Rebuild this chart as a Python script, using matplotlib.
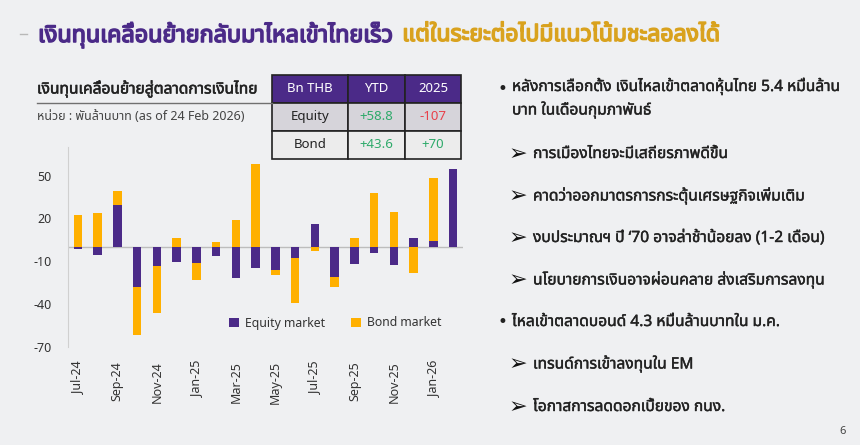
import numpy as np
import matplotlib
matplotlib.use("Agg")
import matplotlib.pyplot as plt
from matplotlib import font_manager, ft2font
from matplotlib import patheffects as pe
from matplotlib.patches import Rectangle
from matplotlib.lines import Line2D

# monthly flows, bn THB
months = ["Jul-24", "Aug-24", "Sep-24", "Oct-24", "Nov-24", "Dec-24",
          "Jan-25", "Feb-25", "Mar-25", "Apr-25", "May-25", "Jun-25",
          "Jul-25", "Aug-25", "Sep-25", "Oct-25", "Nov-25", "Dec-25",
          "Jan-26", "Feb-26"]
equity = [-1.5, -5.8, 29.3, -27.9, -13.5, -10.5, -11.2, -6.5, -21.6, -14.7,
          -15.8, -7.7, 16.3, -21.2, -11.6, -4.2, -12.3, 6.3, 4.4, 54.4]
bond = [22.5, 23.5, 10.2, -34.0, -33.0, 6.0, -12.0, 3.3, 19.0, 57.9,
        -4.0, -31.4, -2.6, -7.0, 6.0, 37.7, 24.2, -17.9, 43.7, 0.0]
yticks = [-70, -40, -10, 20, 50]

tbl_header = ["Bn THB", "YTD", "2025"]
tbl_rows = [["Equity", "+58.8", "-107"], ["Bond", "+43.6", "+70"]]

title_a = "เงินทุนเคลื่อนย้ายกลับมาไหลเข้าไทยเร็ว"
title_b = "แต่ในระยะต่อไปมีแนวโน้มชะลอลงได้"
subtitle = "เงินทุนเคลื่อนย้ายสู่ตลาดการเงินไทย"
unit = "หน่วย : พันล้านบาท (as of 24 Feb 2026)"
bullets = [
    (0, "หลังการเลือกตั้ง เงินไหลเข้าตลาดหุ้นไทย 5.4 หมื่นล้าน\nบาท ในเดือนกุมภาพันธ์"),
    (1, "การเมืองไทยจะมีเสถียรภาพดีขึ้น"),
    (1, "คาดว่าออกมาตรการกระตุ้นเศรษฐกิจเพิ่มเติม"),
    (1, "งบประมาณฯ ปี ‘70 อาจล่าช้าน้อยลง (1-2 เดือน)"),
    (1, "นโยบายการเงินอาจผ่อนคลาย ส่งเสริมการลงทุน"),
    (0, "ไหลเข้าตลาดบอนด์ 4.3 หมื่นล้านบาทใน ม.ค."),
    (1, "เทรนด์การเข้าลงทุนใน EM"),
    (1, "โอกาสการลดดอกเบี้ยของ กนง."),
]

# find a font with Thai glyphs
thai = None
names = []
for f in font_manager.fontManager.ttflist:
    try:
        if 0x0E01 in ft2font.FT2Font(f.fname).get_charmap():
            names.append(f.name)
    except Exception:
        pass
for pref in ["Tahoma", "Leelawadee UI", "Noto Sans Thai", "Noto Sans Thai UI",
             "Sarabun", "Garuda", "Loma", "Norasi"]:
    if pref in names:
        thai = pref
        break
if thai is None and names:
    thai = names[0]
fams = ([thai] if thai else []) + ["DejaVu Sans"]
plt.rcParams["font.family"] = fams

PURPLE = "#4b2a88"
ORANGE = "#ffb000"
BG = "#eff0f2"
W, H = 860, 445


def fx(x):
    return x / W


def fy(y):
    return 1 - y / H


fig = plt.figure(figsize=(8.6, 4.45), dpi=100)
fig.patch.set_facecolor(BG)

# title (stroke to thicken, the Thai face may have no bold)
fig.add_artist(Line2D([fx(20), fx(27)], [fy(34), fy(34)], color="#b8b8b8", lw=1))
t1 = fig.text(fx(38), fy(35), title_a, fontsize=16.8, fontweight="bold",
              color=PURPLE, va="center",
              path_effects=[pe.withStroke(linewidth=1.1, foreground=PURPLE)])
fig.canvas.draw()
bb = t1.get_window_extent()
fig.text(bb.x1 / W + fx(9), fy(35), title_b, fontsize=16.5, fontweight="bold",
         color="#d9a21e", va="center",
         path_effects=[pe.withStroke(linewidth=1.1, foreground="#d9a21e")])

# chart header
fig.text(fx(37), fy(89), subtitle, fontsize=11.2, color="#222222", va="center",
         path_effects=[pe.withStroke(linewidth=0.4, foreground="#222222")])
fig.add_artist(Line2D([fx(37), fx(272)], [fy(103), fy(103)], color="#707070", lw=1))
fig.text(fx(37), fy(116), unit, fontsize=9, color="#444444", va="center")

# table
col_x = [272, 348, 405, 461]
row_y = [75, 103, 131, 159]
fills = [PURPLE, "#d6d4da", "#ececec"]
cells = [tbl_header] + tbl_rows
for r in range(3):
    for c in range(3):
        x0, x1 = col_x[c], col_x[c + 1]
        y0, y1 = row_y[r], row_y[r + 1]
        fig.add_artist(Rectangle((fx(x0), fy(y1)), fx(x1 - x0), (y1 - y0) / H,
                                 facecolor=fills[r], edgecolor="#222222", lw=1.2,
                                 transform=fig.transFigure))
        txt = cells[r][c]
        if r == 0:
            col = "white"
        elif c == 0:
            col = "#222222"
        else:
            col = "#e8404a" if txt.startswith("-") else "#2eaa6a"
        fig.text(fx((x0 + x1) / 2), fy((y0 + y1) / 2), txt, fontsize=9.5,
                 color=col, ha="center", va="center")

# bars
ax = fig.add_axes([fx(68), fy(347), fx(463 - 68), (347 - 147) / H])
ax.set_facecolor("none")
x = np.arange(len(months))
eq = np.array(equity)
bd = np.array(bond)
base = np.where(np.sign(eq) == np.sign(bd), eq, 0)
ax.bar(x, eq, width=0.42, color=PURPLE, label="Equity market", zorder=2)
ax.bar(x, bd, bottom=base, width=0.42, color=ORANGE, label="Bond market", zorder=2)
ax.axhline(0, color="#bdbdbd", lw=1, zorder=1)
ax.set_xlim(-0.5, 19.5)
ax.set_ylim(-70, 70)
ax.set_yticks(yticks)
ax.set_xticks(x[::2])
ax.set_xticklabels(months[::2], rotation=90)
ax.tick_params(length=0, labelsize=9, colors="#333333")
ax.tick_params(axis="y", pad=12)
ax.tick_params(axis="x", pad=10)
for s in ["top", "right", "bottom"]:
    ax.spines[s].set_visible(False)
ax.spines["left"].set_color("#d0d0d0")
ax.legend(loc="center left", bbox_to_anchor=(0.38, 0.12), ncol=2, frameon=False,
          fontsize=8.8, handlelength=0.8, handleheight=0.8, columnspacing=2.1,
          handletextpad=0.5, labelcolor="#333333")

# bullet text
ys = [89, 154, 196, 238, 280, 322, 364, 407]
thick = [pe.withStroke(linewidth=0.3, foreground="#222222")]
for (lvl, s), y in zip(bullets, ys):
    if lvl == 0:
        fig.text(fx(498), fy(y), "•", fontsize=12, color="#222222", va="center",
                 family="DejaVu Sans")
        fig.text(fx(512), fy(y - 11 if "\n" in s else y), s, fontsize=11.2,
                 color="#222222", va="top" if "\n" in s else "center",
                 linespacing=1.5, path_effects=thick)
    else:
        fig.text(fx(509), fy(y), "➢", fontsize=16, color="#111111", va="center",
                 family="DejaVu Sans", fontweight="bold")
        fig.text(fx(533), fy(y), s, fontsize=11.2, color="#222222", va="center",
                 path_effects=thick)

fig.text(fx(839), fy(432), "6", fontsize=8, color="#444444", va="center")

fig.savefig("out.png", dpi=100, facecolor=BG)
